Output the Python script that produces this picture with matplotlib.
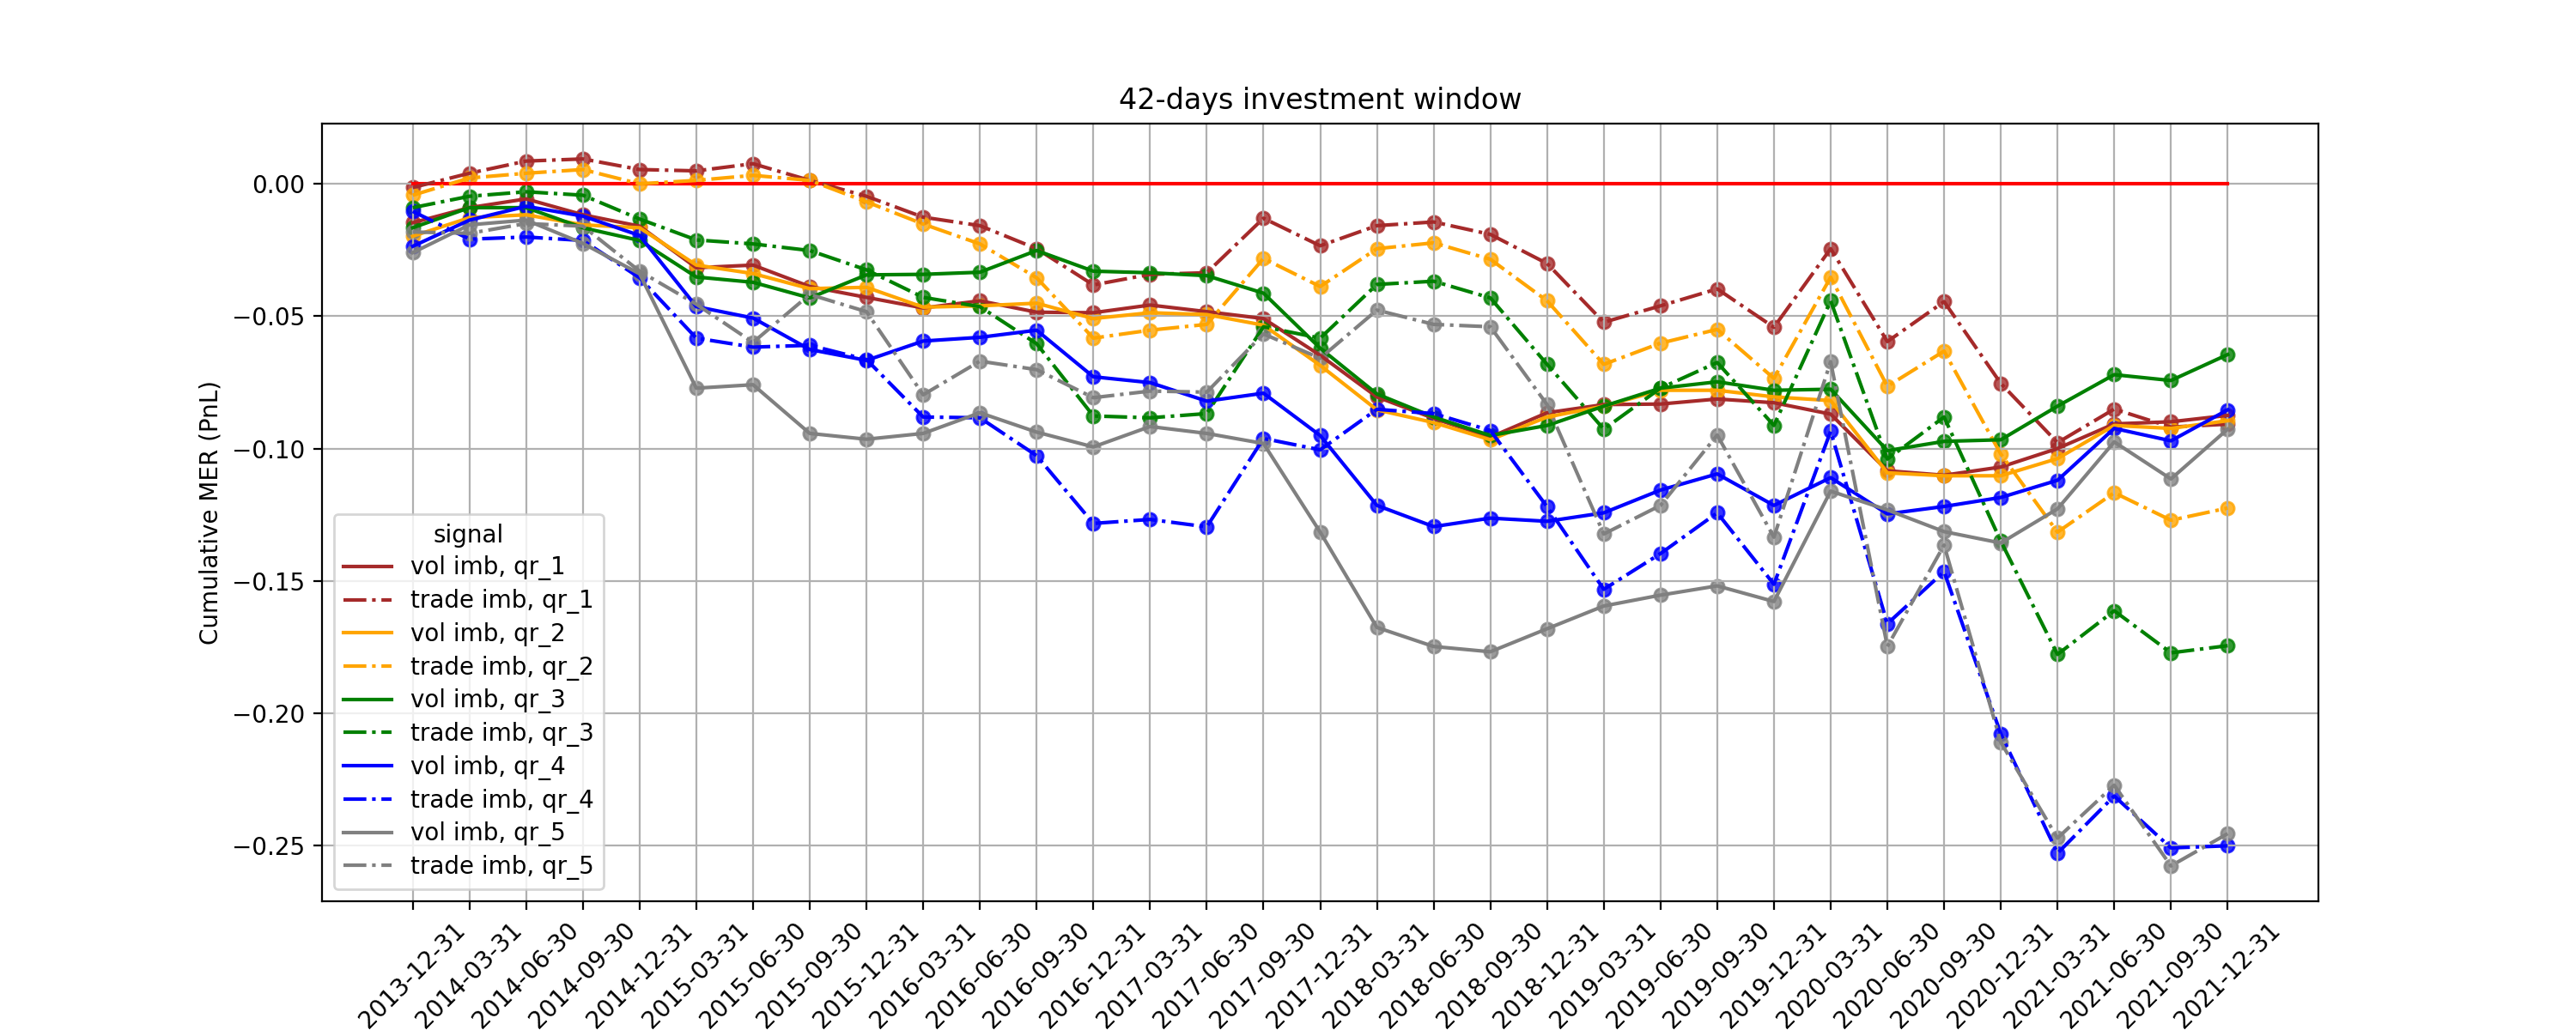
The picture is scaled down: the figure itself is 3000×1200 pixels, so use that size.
import matplotlib
matplotlib.use("Agg")
import matplotlib.pyplot as plt

dates = ["2013-12-31", "2014-03-31", "2014-06-30", "2014-09-30", "2014-12-31",
         "2015-03-31", "2015-06-30", "2015-09-30", "2015-12-31", "2016-03-31",
         "2016-06-30", "2016-09-30", "2016-12-31", "2017-03-31", "2017-06-30",
         "2017-09-30", "2017-12-31", "2018-03-31", "2018-06-30", "2018-09-30",
         "2018-12-31", "2019-03-31", "2019-06-30", "2019-09-30", "2019-12-31",
         "2020-03-31", "2020-06-30", "2020-09-30", "2020-12-31", "2021-03-31",
         "2021-06-30", "2021-09-30", "2021-12-31"]

vol_qr1 = [-0.0147, -0.0090, -0.0057, -0.0117, -0.0160, -0.0317, -0.0307, -0.0388, -0.0429,
           -0.0469, -0.0442, -0.0485, -0.0487, -0.0458, -0.0483, -0.0509, -0.0648, -0.0805,
           -0.0886, -0.0957, -0.0865, -0.0834, -0.0832, -0.0813, -0.0827, -0.0870, -0.1084,
           -0.1101, -0.1070, -0.1000, -0.0907, -0.0899, -0.0875]
trade_qr1 = [-0.0014, 0.0040, 0.0086, 0.0094, 0.0054, 0.0049, 0.0076, 0.0013, -0.0047,
             -0.0126, -0.0158, -0.0245, -0.0382, -0.0342, -0.0336, -0.0130, -0.0234, -0.0158,
             -0.0144, -0.0191, -0.0301, -0.0523, -0.0461, -0.0397, -0.0542, -0.0245, -0.0596,
             -0.0445, -0.0754, -0.0978, -0.0851, -0.0919, -0.0908]
vol_qr2 = [-0.0198, -0.0128, -0.0117, -0.0155, -0.0166, -0.0307, -0.0339, -0.0396, -0.0391,
           -0.0466, -0.0461, -0.0451, -0.0509, -0.0487, -0.0494, -0.0534, -0.0686, -0.0854,
           -0.0902, -0.0967, -0.0881, -0.0840, -0.0780, -0.0780, -0.0805, -0.0819, -0.1092,
           -0.1103, -0.1103, -0.1038, -0.0913, -0.0924, -0.0895]
trade_qr2 = [-0.0043, 0.0022, 0.0040, 0.0054, 0.0000, 0.0013, 0.0032, 0.0013, -0.0068,
             -0.0152, -0.0227, -0.0355, -0.0583, -0.0553, -0.0531, -0.0282, -0.0388, -0.0245,
             -0.0223, -0.0285, -0.0442, -0.0682, -0.0602, -0.0550, -0.0735, -0.0353, -0.0765,
             -0.0632, -0.1021, -0.1316, -0.1167, -0.1271, -0.1225]
vol_qr3 = [-0.0166, -0.0090, -0.0090, -0.0166, -0.0214, -0.0352, -0.0372, -0.0431, -0.0344,
           -0.0342, -0.0334, -0.0252, -0.0330, -0.0336, -0.0347, -0.0413, -0.0621, -0.0794,
           -0.0881, -0.0951, -0.0913, -0.0840, -0.0772, -0.0748, -0.0780, -0.0776, -0.1008,
           -0.0973, -0.0967, -0.0840, -0.0721, -0.0743, -0.0645]
trade_qr3 = [-0.0090, -0.0047, -0.0030, -0.0043, -0.0133, -0.0212, -0.0227, -0.0252, -0.0325,
             -0.0429, -0.0464, -0.0604, -0.0877, -0.0884, -0.0868, -0.0540, -0.0583, -0.0380,
             -0.0368, -0.0431, -0.0682, -0.0927, -0.0772, -0.0675, -0.0913, -0.0442, -0.1040,
             -0.0881, -0.1350, -0.1778, -0.1613, -0.1772, -0.1745]
vol_qr4 = [-0.0236, -0.0137, -0.0085, -0.0122, -0.0195, -0.0464, -0.0507, -0.0626, -0.0667,
           -0.0594, -0.0580, -0.0553, -0.0729, -0.0751, -0.0821, -0.0791, -0.0951, -0.1215,
           -0.1295, -0.1263, -0.1275, -0.1243, -0.1157, -0.1096, -0.1215, -0.1110, -0.1247,
           -0.1219, -0.1185, -0.1120, -0.0924, -0.0971, -0.0854]
trade_qr4 = [-0.0104, -0.0209, -0.0201, -0.0214, -0.0355, -0.0583, -0.0617, -0.0610, -0.0664,
             -0.0881, -0.0884, -0.1027, -0.1283, -0.1268, -0.1296, -0.0962, -0.1005, -0.0852,
             -0.0868, -0.0932, -0.1220, -0.1532, -0.1397, -0.1243, -0.1513, -0.0935, -0.1662,
             -0.1465, -0.2078, -0.2529, -0.2313, -0.2509, -0.2501]
vol_qr5 = [-0.0260, -0.0155, -0.0137, -0.0225, -0.0340, -0.0772, -0.0759, -0.0943, -0.0965,
           -0.0943, -0.0865, -0.0938, -0.0994, -0.0917, -0.0943, -0.0981, -0.1316, -0.1676,
           -0.1748, -0.1768, -0.1681, -0.1595, -0.1554, -0.1519, -0.1578, -0.1161, -0.1232,
           -0.1314, -0.1357, -0.1228, -0.0975, -0.1115, -0.0927]
trade_qr5 = [-0.0182, -0.0187, -0.0150, -0.0160, -0.0330, -0.0455, -0.0599, -0.0418, -0.0483,
             -0.0797, -0.0670, -0.0702, -0.0808, -0.0783, -0.0787, -0.0567, -0.0659, -0.0477,
             -0.0531, -0.0540, -0.0834, -0.1323, -0.1215, -0.0949, -0.1335, -0.0672, -0.1748,
             -0.1365, -0.2110, -0.2472, -0.2272, -0.2577, -0.2455]

series = [
    ("vol imb, qr_1", vol_qr1, "brown", "-"),
    ("trade imb, qr_1", trade_qr1, "brown", "-."),
    ("vol imb, qr_2", vol_qr2, "orange", "-"),
    ("trade imb, qr_2", trade_qr2, "orange", "-."),
    ("vol imb, qr_3", vol_qr3, "green", "-"),
    ("trade imb, qr_3", trade_qr3, "green", "-."),
    ("vol imb, qr_4", vol_qr4, "blue", "-"),
    ("trade imb, qr_4", trade_qr4, "blue", "-."),
    ("vol imb, qr_5", vol_qr5, "grey", "-"),
    ("trade imb, qr_5", trade_qr5, "grey", "-."),
]

fig, ax = plt.subplots(figsize=(15, 6), dpi=200)
fig.subplots_adjust(left=0.125, right=0.9, top=0.88, bottom=0.125)

ax.plot(dates, [0.0] * len(dates), color="red", lw=1.5)

for name, vals, col, ls in series:
    ax.plot(dates, vals, color=col, linestyle=ls, lw=1.5, label=name)
    ax.scatter(dates, vals, color=col, s=30, alpha=0.8)

ax.set_title("42-days investment window")
ax.set_ylabel("Cumulative MER (PnL)")
ax.grid(True)
plt.setp(ax.get_xticklabels(), rotation=45, ha="center")
ax.legend(title="signal", loc="lower left", labelspacing=0.35)

plt.savefig("out.png", dpi=200)
